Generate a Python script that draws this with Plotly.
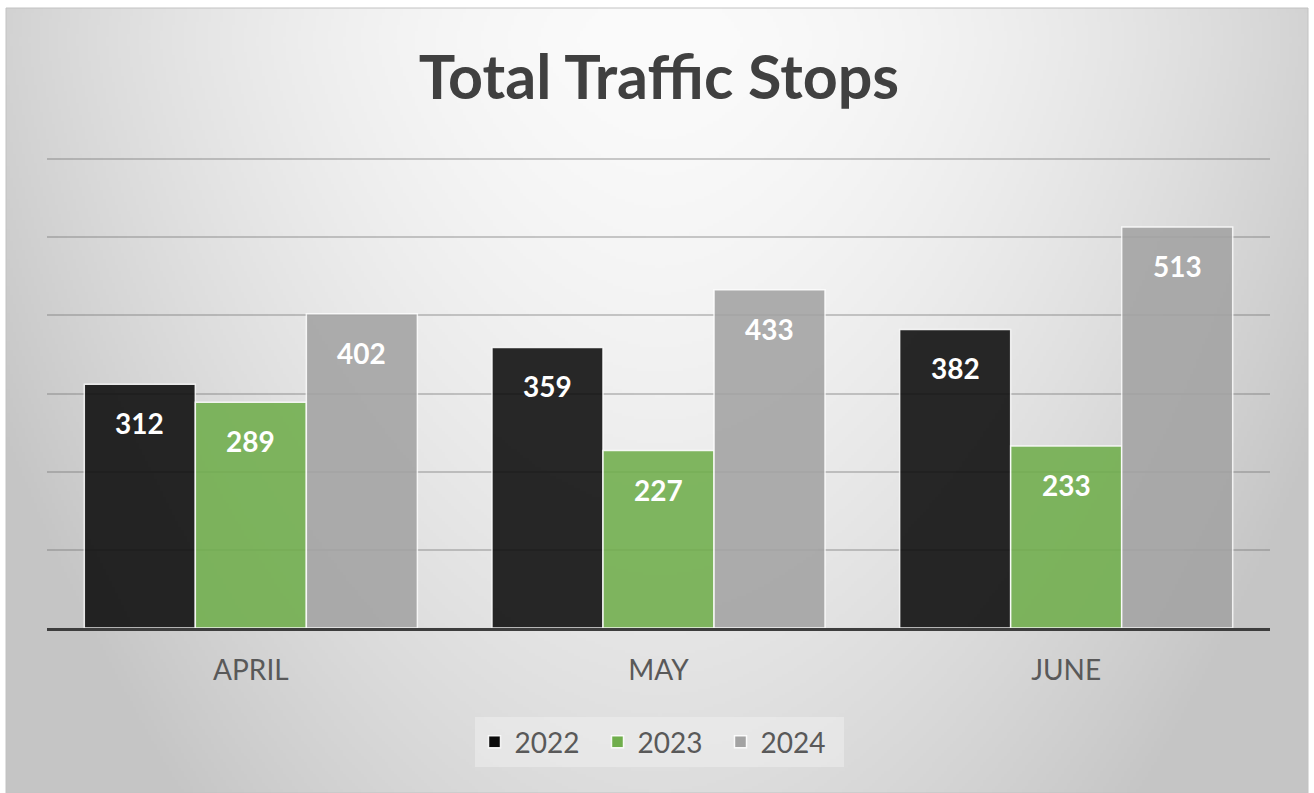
import numpy as np
import zlib, struct, base64
import plotly.graph_objects as go

# ---------------- data ----------------
months = ["APRIL", "MAY", "JUNE"]
years = ["2022", "2023", "2024"]
stops_2022 = [312, 359, 382]
stops_2023 = [289, 227, 233]
stops_2024 = [402, 433, 513]
series = [stops_2022, stops_2023, stops_2024]
colors = ["#0c0c0c", "#70ae4c", "#a3a3a3"]

# ---------------- background gradient (decoration) ----------------
W, H, S = 1302, 785, 3
w, h = W // S, H // S
px = 6 + (np.arange(w) + 0.5) * S
py = 8 + (np.arange(h) + 0.5) * S
X, Y = np.meshgrid(px, py)
dx = np.abs(X - 660) / 650.0
dy = np.abs(Y - 40) / 750.0
v = 251 - 40 * dx ** 1.8 - 30 * dy ** 1.35
v = np.clip(v, 197, 251).astype(np.uint8)
img = np.stack([v, v, v], axis=-1)


def png_uri(a):
    hh, ww, _ = a.shape
    raw = b"".join(b"\x00" + a[r].tobytes() for r in range(hh))

    def chunk(t, data):
        c = struct.pack(">I", len(data)) + t + data
        return c + struct.pack(">I", zlib.crc32(t + data) & 0xFFFFFFFF)

    png = b"\x89PNG\r\n\x1a\n" + chunk(b"IHDR", struct.pack(">IIBBBBB", ww, hh, 8, 2, 0, 0, 0))
    png += chunk(b"IDAT", zlib.compress(raw, 9)) + chunk(b"IEND", b"")
    return "data:image/png;base64," + base64.b64encode(png).decode()


# ---------------- figure ----------------
FW, FH = 1314, 793
L, R, T, B = 47, 44, 156, 165
pw, ph = FW - L - R, FH - T - B


def pxx(p):
    return (p - L) / pw


def pxy(p):
    return (FH - B - p) / ph


fig = go.Figure()
for name, vals, col in zip(years, series, colors):
    fig.add_trace(go.Bar(
        x=months, y=vals, name=name,
        marker=dict(color=col, opacity=0.88, line=dict(color="rgba(255,255,255,0.9)", width=1.5)),
        hoverinfo="x+y+name",
    ))

# value labels inside bars, near the top
bargap = 0.183
barw = pw / len(months) * (1 - bargap) / len(years)
annots = []
for k, vals in enumerate(series):
    for m, val in zip(months, vals):
        annots.append(dict(
            x=m, y=val, xref="x", yref="y", text=str(val), showarrow=False,
            xshift=(k - 1) * barw, yshift=-39, yanchor="middle",
            font=dict(family="Lato", size=28, color="white", weight="bold"),
        ))

fig.update_layout(
    width=FW, height=FH,
    margin=dict(l=L, r=R, t=T, b=B),
    paper_bgcolor="white",
    plot_bgcolor="rgba(0,0,0,0)",
    barmode="group", bargap=bargap, bargroupgap=0,
    title=dict(text="<b>Total Traffic Stops</b>", x=pxx(659), xref="paper", xanchor="center",
               y=1 - 78 / FH, yref="container", yanchor="middle",
               font=dict(family="Lato", size=61, color="#404040")),
    xaxis=dict(showline=True, linecolor="#3d3d3d", linewidth=3, showgrid=False,
               tickfont=dict(family="Lato", size=28, color="#595959"),
               ticks="", ticklabelstandoff=15),
    yaxis=dict(range=[0, 604], tick0=0, dtick=100, showticklabels=False, zeroline=False,
               showgrid=True, gridcolor="rgba(110,110,110,0.35)", gridwidth=2),
    legend=dict(orientation="h", x=pxx(659), xanchor="center", y=pxy(742), yanchor="middle",
                bgcolor="rgba(238,238,238,0.55)", entrywidth=78,
                font=dict(family="Lato", size=28, color="#595959")),
    annotations=annots,
    images=[dict(source=png_uri(img), xref="paper", yref="paper",
                 x=pxx(6), y=pxy(8), sizex=W / pw, sizey=H / ph,
                 xanchor="left", yanchor="top", sizing="stretch", layer="below")],
    shapes=[dict(type="rect", xref="paper", yref="paper",
                 x0=pxx(6), x1=pxx(6 + W), y0=pxy(8 + H), y1=pxy(8),
                 line=dict(color="#c2c2c2", width=1), layer="below")],
)

fig.write_html("out.html", config={"displayModeBar": False},
               post_script="document.body.style.margin='0px';")
